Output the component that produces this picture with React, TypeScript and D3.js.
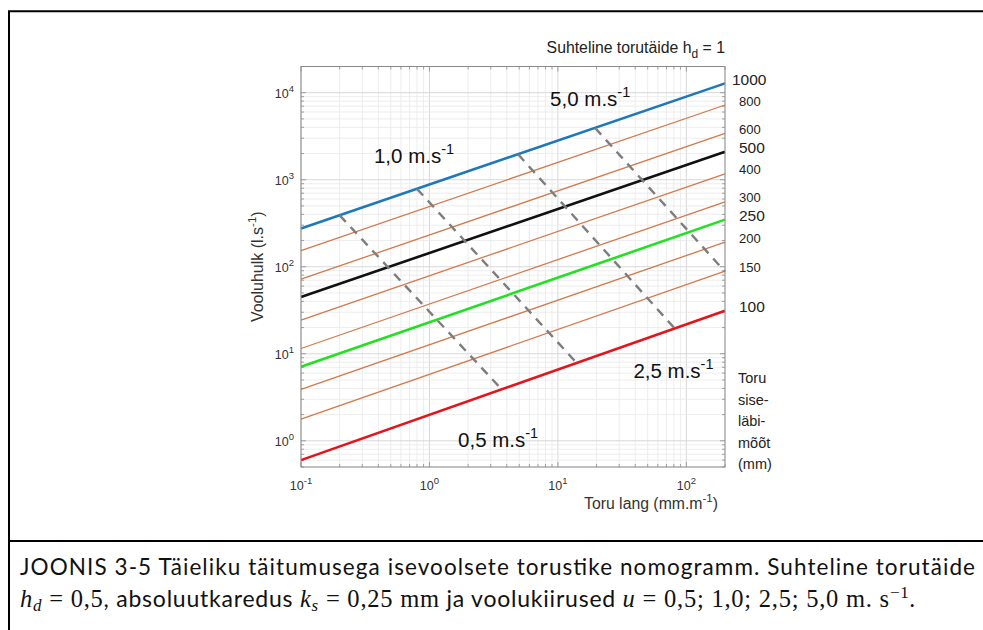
import React from "react";
import * as d3 from "d3";

// Pipe inner diameters (mm) and flow at the two ends of the slope axis
const diameters = [1000, 800, 600, 500, 400, 300, 250, 200, 150, 100];
const flowAtSlopeMin = [275, 153, 72, 44.9, 24.4, 11.5, 7.08, 3.9, 1.77, 0.6]; // l/s at J = 0.1
const flowAtSlopeMax = [12800, 7220, 3410, 2100, 1170, 558, 348, 192, 89, 31.3]; // l/s at J = 200
const slopeMin = 0.1;
const slopeMax = 200;

// Iso-velocity lines (m/s): start and end points (slope mm/m, flow l/s)
const velocities = ["0,5", "1,0", "2,5", "5,0"];
const velStartSlope = [0.2, 0.8, 4.9, 19.5];
const velStartFlow = [390, 785, 1960, 3930];
const velEndSlope = [3.65, 14.0, 81, 200];
const velEndFlow = [3.9, 7.85, 19.6, 88];
// label anchors (slope, flow)
const velLabelSlope = [1.67, 0.37, 38.7, 8.7];
const velLabelFlow = [0.846, 1557, 5.26, 7030];

const xTickExps = [-1, 0, 1, 2];
const yTickExps = [0, 1, 2, 3, 4];
const sideLabel = ["Toru", "sise-", "läbi-", "mõõt", "(mm)"];

const W = 983;
const H = 630;
const plot = { left: 301, right: 725, top: 66.5, bottom: 467 };

const x = d3.scaleLog().domain([0.1, 200]).range([plot.left, plot.right]);
const y = d3.scaleLog().domain([0.5, 20000]).range([plot.bottom, plot.top]);

const SANS = "'Liberation Sans', Arial, Helvetica, sans-serif";
const CAP = "Lato, 'Open Sans', sans-serif";
const SERIF = "'Liberation Serif', 'DejaVu Serif', serif";

const highlight: Record<number, string> = {
  1000: "#1f78b8",
  500: "#111111",
  250: "#22e022",
  100: "#e3141c",
};
const thinColor = "#d27a4c";

function minorValues(lo: number, hi: number): number[] {
  const out: number[] = [];
  for (let e = -2; e <= 5; e++) {
    for (let k = 1; k <= 9; k++) {
      const v = k * Math.pow(10, e);
      if (v >= lo * 0.9999 && v <= hi * 1.0001) out.push(v);
    }
  }
  return out;
}

export default function App() {
  const xGrid = minorValues(0.1, 200);
  const yGrid = minorValues(0.5, 20000);
  const isMajor = (v: number) => Math.abs(Math.log10(v) - Math.round(Math.log10(v))) < 1e-9;
  const line = d3
    .line<[number, number]>()
    .x((d) => x(d[0]))
    .y((d) => y(d[1]));
  const boxColor = "#8a8a8a";

  return (
    <svg
      width={W}
      height={H}
      viewBox={`0 0 ${W} ${H}`}
      style={{ position: "absolute", left: 0, top: 0, background: "#fff" }}
    >
      <rect x={0} y={0} width={W} height={H} fill="#fff" />
      {/* frame */}
      <path d={`M9,${H} L9,11.3 L${W},11.3`} fill="none" stroke="#000" strokeWidth={2} />
      <line x1={9} x2={W} y1={541} y2={541} stroke="#000" strokeWidth={2} />

      {/* grid */}
      <g>
        {xGrid.map((v, i) => (
          <line
            key={"gx" + i}
            x1={x(v)}
            x2={x(v)}
            y1={plot.top}
            y2={plot.bottom}
            stroke={isMajor(v) ? "#d8d8d8" : "#e8e8e8"}
            strokeWidth={isMajor(v) ? 1 : 0.8}
          />
        ))}
        {yGrid.map((v, i) => (
          <line
            key={"gy" + i}
            x1={plot.left}
            x2={plot.right}
            y1={y(v)}
            y2={y(v)}
            stroke={isMajor(v) ? "#d8d8d8" : "#e8e8e8"}
            strokeWidth={isMajor(v) ? 1 : 0.8}
          />
        ))}
      </g>

      {/* ticks on all four sides, pointing inward */}
      <g stroke={boxColor} strokeWidth={0.8}>
        {xGrid.map((v, i) => {
          const len = isMajor(v) ? 5 : 3;
          return (
            <g key={"tx" + i}>
              <line x1={x(v)} x2={x(v)} y1={plot.bottom} y2={plot.bottom - len} />
              <line x1={x(v)} x2={x(v)} y1={plot.top} y2={plot.top + len} />
            </g>
          );
        })}
        {yGrid.map((v, i) => {
          const len = isMajor(v) ? 5 : 3;
          return (
            <g key={"ty" + i}>
              <line x1={plot.left} x2={plot.left + len} y1={y(v)} y2={y(v)} />
              <line x1={plot.right} x2={plot.right - len} y1={y(v)} y2={y(v)} />
            </g>
          );
        })}
      </g>

      {/* pipe diameter lines */}
      <g fill="none">
        {diameters.map((d, i) => {
          const c = highlight[d];
          return (
            <path
              key={"d" + d}
              d={line([
                [slopeMin, flowAtSlopeMin[i]],
                [slopeMax, flowAtSlopeMax[i]],
              ]) as string}
              stroke={c || thinColor}
              strokeWidth={c ? 2.6 : 1.3}
            />
          );
        })}
      </g>

      {/* iso-velocity lines */}
      <g fill="none" stroke="#7d7d7d" strokeWidth={2.4} strokeDasharray="9,7">
        {velocities.map((v, i) => (
          <path
            key={"v" + v}
            d={line([
              [velStartSlope[i], velStartFlow[i]],
              [velEndSlope[i], velEndFlow[i]],
            ]) as string}
          />
        ))}
      </g>

      {/* box */}
      <rect
        x={plot.left}
        y={plot.top}
        width={plot.right - plot.left}
        height={plot.bottom - plot.top}
        fill="none"
        stroke={boxColor}
        strokeWidth={1}
      />

      {/* tick labels */}
      <g fontFamily={SANS} fill="#333" fontSize={12.5}>
        {xTickExps.map((e) => (
          <text key={"xl" + e} x={x(Math.pow(10, e))} y={490} textAnchor="middle">
            <tspan>10</tspan>
            <tspan dy={-6} fontSize={9.5}>
              {e}
            </tspan>
          </text>
        ))}
        {yTickExps.map((e) => (
          <text key={"yl" + e} x={294} y={y(Math.pow(10, e)) + 5} textAnchor="end">
            <tspan>10</tspan>
            <tspan dy={-6} fontSize={9.5}>
              {e}
            </tspan>
          </text>
        ))}
      </g>

      {/* axis titles */}
      <text x={718} y={509} textAnchor="end" fontFamily={SANS} fontSize={15.8} fill="#333">
        <tspan>Toru lang (mm.m</tspan>
        <tspan dy={-7} fontSize={11.5}>
          -1
        </tspan>
        <tspan dy={7}>)</tspan>
      </text>
      <text
        transform={`translate(263,${(plot.top + plot.bottom) / 2}) rotate(-90)`}
        textAnchor="middle"
        fontFamily={SANS}
        fontSize={16}
        fill="#333"
      >
        <tspan>Vooluhulk (l.s</tspan>
        <tspan dy={-7} fontSize={11.5}>
          -1
        </tspan>
        <tspan dy={7}>)</tspan>
      </text>

      {/* header */}
      <text x={725} y={53} textAnchor="end" fontFamily={SANS} fontSize={15.8} fill="#222">
        <tspan>Suhteline torutäide h</tspan>
        <tspan dy={5} fontSize={12}>
          d
        </tspan>
        <tspan dy={-5}> = 1</tspan>
      </text>

      {/* velocity labels */}
      <g fontFamily={SANS} fill="#111" fontSize={20.5}>
        {velocities.map((v, i) => (
          <text key={"vl" + v} x={x(velLabelSlope[i])} y={y(velLabelFlow[i])}>
            <tspan>{v} m.s</tspan>
            <tspan dy={-9} fontSize={14.5}>
              -1
            </tspan>
          </text>
        ))}
      </g>

      {/* diameter labels */}
      <g fontFamily={SANS} fill="#222">
        {diameters.map((d, i) => {
          const big = !!highlight[d];
          const fs = big ? 15.5 : 13;
          return (
            <text
              key={"dl" + d}
              x={d === 1000 ? 732 : 739}
              y={y(flowAtSlopeMax[i]) - 4 + fs * 0.36}
              fontSize={fs}
            >
              {d}
            </text>
          );
        })}
        {sideLabel.map((s, i) => (
          <text key={"sl" + i} x={738} y={383 + i * 21.5} fontSize={14.5}>
            {s}
          </text>
        ))}
      </g>

      {/* caption */}
      <text x={20} y={575} fontFamily={CAP} fontSize={22.5} fill="#111" textLength={955} lengthAdjust="spacing">
        JOONIS 3-5 Täieliku täitumusega isevoolsete torustike nomogramm. Suhteline torutäide
      </text>
      <text x={20} y={607} fill="#111" xmlSpace="preserve" textLength={895} lengthAdjust="spacing">
        <tspan fontFamily={SERIF} fontStyle="italic" fontSize={24.5}>h</tspan>
        <tspan fontFamily={SERIF} fontStyle="italic" fontSize={17} dy={4}>d</tspan>
        <tspan fontFamily={SERIF} fontSize={24.5} dy={-4}>{" = 0,5"}</tspan>
        <tspan fontFamily={CAP} fontSize={23}>{", absoluutkaredus "}</tspan>
        <tspan fontFamily={SERIF} fontStyle="italic" fontSize={24.5}>k</tspan>
        <tspan fontFamily={SERIF} fontStyle="italic" fontSize={17} dy={4}>s</tspan>
        <tspan fontFamily={SERIF} fontSize={24.5} dy={-4}>{" = 0,25 mm"}</tspan>
        <tspan fontFamily={CAP} fontSize={23}>{" ja voolukiirused "}</tspan>
        <tspan fontFamily={SERIF} fontStyle="italic" fontSize={24.5}>u</tspan>
        <tspan fontFamily={SERIF} fontSize={24.5}>{" = 0,5; 1,0; 2,5; 5,0 m. s"}</tspan>
        <tspan fontFamily={SERIF} fontSize={17} dy={-9}>−1</tspan>
        <tspan fontFamily={CAP} fontSize={23} dy={9}>.</tspan>
      </text>
    </svg>
  );
}
